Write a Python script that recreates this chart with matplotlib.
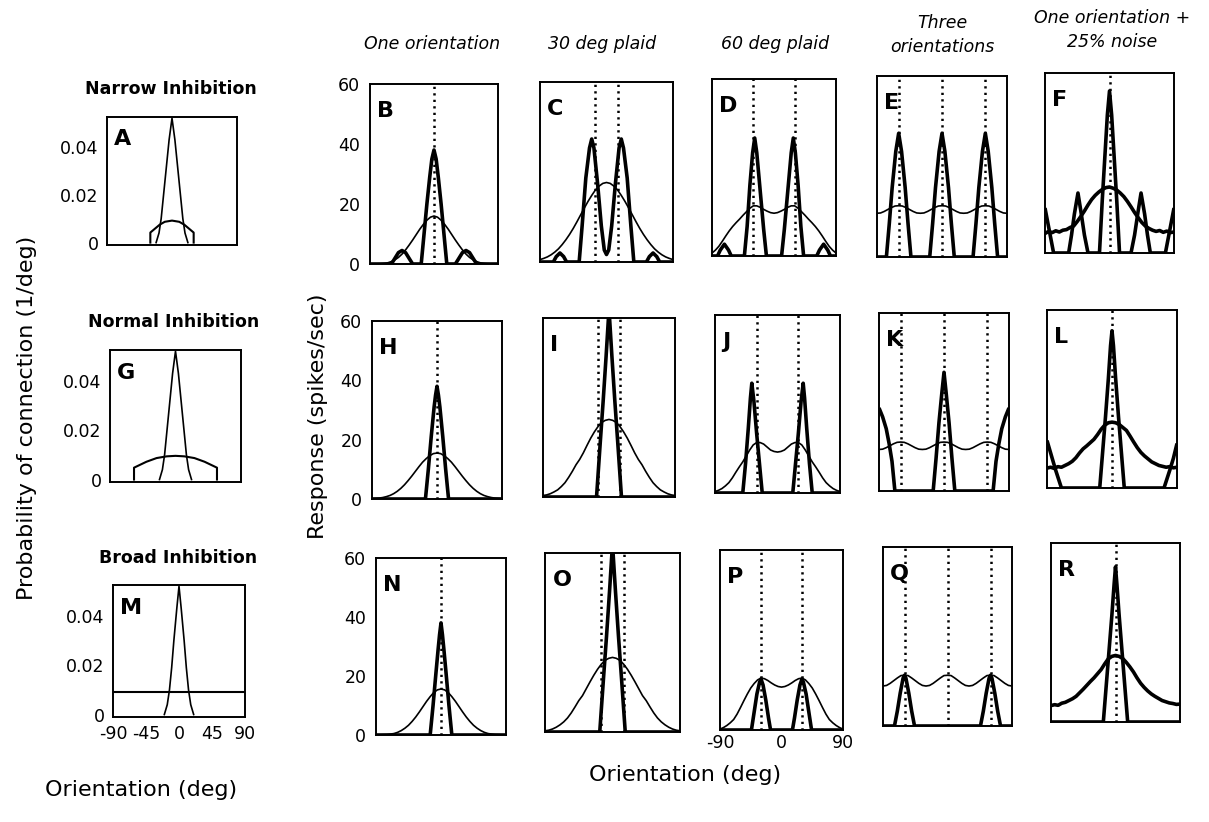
import matplotlib
matplotlib.use("Agg")
import matplotlib.pyplot as plt

W, H = 1209, 822

# ---------------- data ----------------
ORIENT = [-90, -85, -80, -75, -70, -65, -60, -55, -50, -45, -40, -35, -30, -25, -20, -15, -10, -5, 0,
          5, 10, 15, 20, 25, 30, 35, 40, 45, 50, 55, 60, 65, 70, 75, 80, 85, 90]

# broad (thin) response curves, sampled at ORIENT
thin_B = [0, 0, 0.05, 0.1, 0.2, 0.4, 0.8, 1.4, 2.2, 3.3, 4.7, 6.3, 8.0, 9.8, 11.6, 13.2, 14.6, 15.6, 16,
          15.6, 14.6, 13.2, 11.6, 9.8, 8.0, 6.3, 4.7, 3.3, 2.2, 1.4, 0.8, 0.4, 0.2, 0.1, 0.05, 0, 0]
thin_C = [0.8, 1.2, 1.7, 2.4, 3.3, 4.4, 5.8, 7.4, 9.2, 11.2, 13.4, 15.7, 18, 20.2, 22.2, 24, 25.3, 26.2, 26.5,
          26.2, 25.3, 24, 22.2, 20.2, 18, 15.7, 13.4, 11.2, 9.2, 7.4, 5.8, 4.4, 3.3, 2.4, 1.7, 1.2, 0.8]
thin_D = [1, 2, 3.3, 5, 6.8, 8.5, 10, 11.3, 12.5, 13.8, 15, 16.2, 17, 17, 16.5, 15.8, 15.2, 14.7, 14.5,
          14.7, 15.2, 15.8, 16.5, 17, 17, 16.2, 15, 13.8, 12.5, 11.3, 10, 8.5, 6.8, 5, 3.3, 2, 1]
thin_E = [14.5, 14.6, 15.1, 15.75, 16.4, 16.9, 17, 16.9, 16.4, 15.75, 15.1, 14.6, 14.5, 14.6, 15.1, 15.75, 16.4, 16.9, 17,
          16.9, 16.4, 15.75, 15.1, 14.6, 14.5, 14.6, 15.1, 15.75, 16.4, 16.9, 17, 16.9, 16.4, 15.75, 15.1, 14.6, 14.5]
thin_F = [6.5, 7.2, 6.8, 7.4, 7.0, 7.6, 7.8, 8.5, 9.0, 10.5, 12.2, 14, 16, 17.8, 19.2, 20.3, 21.2, 21.8, 22,
          21.6, 21, 20, 18.8, 17.2, 15.4, 13.5, 11.8, 10.2, 9.0, 8.2, 7.6, 7.2, 7.5, 6.9, 7.3, 6.8, 7.0]
thin_H = [0.1, 0.2, 0.3, 0.5, 0.8, 1.2, 1.8, 2.6, 3.6, 4.8, 6.2, 7.7, 9.3, 10.9, 12.4, 13.6, 14.6, 15.3, 15.5,
          15.3, 14.6, 13.6, 12.4, 10.9, 9.3, 7.7, 6.2, 4.8, 3.6, 2.6, 1.8, 1.2, 0.8, 0.5, 0.3, 0.2, 0.1]
thin_I = [0.5, 0.7, 1.1, 1.7, 2.4, 3.5, 4.8, 6.6, 8.6, 10.8, 12.6, 14.8, 17.3, 19.7, 21.8, 23.6, 25, 25.7, 26,
          25.7, 25, 23.6, 21.8, 19.7, 17.3, 14.8, 12.6, 10.8, 8.6, 6.6, 4.8, 3.5, 2.4, 1.7, 1.1, 0.7, 0.5]
thin_J = [0.5, 0.9, 1.5, 2.4, 3.5, 5.1, 7, 8.8, 10.5, 12.5, 14.5, 16.2, 17, 17, 16.5, 15.5, 14.5, 14, 13.8,
          14, 14.5, 15.5, 16.5, 17, 17, 16.2, 14.5, 12.5, 10.5, 8.8, 7, 5.1, 3.5, 2.4, 1.5, 0.9, 0.5]
thin_K = [14, 14.1, 14.6, 15.25, 15.9, 16.4, 16.5, 16.4, 15.9, 15.25, 14.6, 14.1, 14, 14.1, 14.6, 15.25, 15.9, 16.4, 16.5,
          16.4, 15.9, 15.25, 14.6, 14.1, 14, 14.1, 14.6, 15.25, 15.9, 16.4, 16.5, 16.4, 15.9, 15.25, 14.6, 14.1, 14]
thin_L = [6.7, 7.0, 6.6, 7.2, 7.0, 7.6, 8.2, 9.0, 10.2, 11.8, 13.2, 14.2, 15.3, 16.4, 18.0, 19.8, 21.2, 22.0, 22.2,
          22.0, 21.4, 20.4, 19.4, 17.5, 15.5, 13.6, 12.0, 10.8, 9.8, 8.8, 8.2, 7.6, 7.3, 7.0, 7.2, 6.8, 7.0]
thin_N = [0, 0.05, 0.1, 0.15, 0.3, 0.5, 0.9, 1.5, 2.3, 3.3, 4.6, 6.1, 7.8, 9.6, 11.4, 13.0, 14.4, 15.3, 15.6,
          15.3, 14.4, 13.0, 11.4, 9.6, 7.8, 6.1, 4.6, 3.3, 2.3, 1.5, 0.9, 0.5, 0.3, 0.15, 0.1, 0.05, 0]
thin_O = [0.4, 0.6, 1.0, 1.6, 2.4, 3.4, 4.7, 6.4, 8.4, 10.5, 12.2, 14.5, 16.8, 19, 21, 22.7, 24, 24.7, 25,
          24.7, 24, 22.7, 21, 19, 16.8, 14.5, 12.2, 10.5, 8.4, 6.4, 4.7, 3.4, 2.4, 1.6, 1.0, 0.6, 0.4]
thin_P = [0.3, 0.8, 1.5, 2.4, 3.5, 5.3, 7.5, 9.8, 12, 14, 15.5, 16.7, 17.3, 17.1, 16.5, 15.7, 15, 14.5, 14.3,
          14.5, 15, 15.7, 16.5, 17.1, 17.3, 16.7, 15.5, 14, 12, 9.8, 7.5, 5.3, 3.5, 2.4, 1.5, 0.8, 0.3]
thin_Q = [13.4, 13.6, 14.3, 15.2, 16.1, 16.9, 17, 16.9, 16.1, 15.2, 14.3, 13.6, 13.4, 13.6, 14.3, 15.2, 16.1, 16.9, 17,
          16.9, 16.1, 15.2, 14.3, 13.6, 13.4, 13.6, 14.3, 15.2, 16.1, 16.9, 17, 16.9, 16.1, 15.2, 14.3, 13.6, 13.4]
thin_R = [5.5, 5.8, 5.6, 6.3, 6.6, 7.2, 7.8, 8.6, 9.8, 11.0, 12.3, 13.6, 14.8, 16.2, 17.6, 19.5, 21.2, 22.0, 22.3,
          22.0, 21.3, 20.0, 18.5, 16.8, 14.8, 13.0, 11.6, 10.4, 9.4, 8.6, 7.9, 7.2, 6.8, 6.4, 6.2, 5.9, 6.0]

# narrow (thick) response curves
thick_B_deg = [-90, -60, -56, -50, -45, -40, -34, -30, -18, -14, -10, -6, -3, 0, 3, 6, 10, 14, 18, 30, 34, 40, 45, 50, 56, 60, 90]
thick_B = [0, 0, 1.5, 3.8, 4.5, 3.8, 1.5, 0, 0, 10, 20, 29, 35, 38, 35, 29, 20, 10, 0, 0, 1.5, 3.8, 4.5, 3.8, 1.5, 0, 0]
thick_C_deg = [-90, -72, -68, -63, -58, -54, -37, -33, -28, -23, -20, -17, -12, -7, -3, 0, 3, 7, 12, 17, 20, 23, 28, 33, 37, 54, 58, 63, 68, 72, 90]
thick_C = [0, 0, 1.8, 3, 1.8, 0, 0, 12, 28, 38, 41, 38, 26, 12, 4, 2.5, 4, 12, 26, 38, 41, 38, 28, 12, 0, 0, 1.8, 3, 1.8, 0, 0]
thick_D_deg = [-90, -82, -78, -72, -66, -62, -43, -39, -35, -31, -28, -25, -20, -15, -11, 11, 15, 20, 25, 28, 31, 35, 39, 43, 62, 66, 72, 78, 82, 90]
thick_D = [0, 0, 2, 4, 2, 0, 0, 10, 24, 35, 40, 35, 22, 9, 0, 0, 9, 22, 35, 40, 35, 24, 10, 0, 0, 2, 4, 2, 0, 0]
thick_E_deg = [-90, -77, -73, -69, -64, -60, -56, -51, -47, -43, -17, -13, -9, -4, 0, 4, 9, 13, 17, 43, 47, 51, 56, 60, 64, 69, 73, 77, 90]
thick_E = [0, 0, 11, 23, 35, 41, 35, 23, 11, 0, 0, 11, 23, 35, 41, 35, 23, 11, 0, 0, 11, 23, 35, 41, 35, 23, 11, 0, 0]
thick_F_deg = [-90, -86, -82, -78, -57, -53, -49, -44, -40, -35, -30, -14, -10, -6, -3, 0, 3, 6, 10, 14, 30, 35, 40, 44, 49, 53, 57, 78, 82, 86, 90]
thick_F = [15, 10, 5, 0, 0, 6, 13, 20, 14, 6, 0, 0, 18, 34, 46, 54, 46, 34, 18, 0, 0, 6, 14, 20, 13, 6, 0, 0, 5, 10, 15]
thick_H_deg = [-90, -16, -12, -8, -4, -2, 0, 2, 4, 8, 12, 16, 90]
thick_H = [0, 0, 10, 21, 31, 35, 38, 35, 31, 21, 10, 0, 0]
thick_I_deg = [-90, -17, -12, -8, -4, 0, 4, 8, 12, 17, 90]
thick_I = [0, 0, 18, 32, 47, 63, 47, 32, 18, 0, 0]
thick_J_deg = [-90, -50, -46, -42, -39, -37, -34, -30, -26, -22, 22, 26, 30, 34, 37, 39, 42, 46, 50, 90]
thick_J = [0, 0, 10, 22, 32, 37, 31, 20, 10, 0, 0, 10, 20, 31, 37, 32, 22, 10, 0, 0]
thick_K_deg = [-90, -85, -80, -76, -72, -68, -15, -11, -7, -3, 0, 3, 7, 11, 15, 68, 72, 76, 80, 85, 90]
thick_K = [28, 25, 21, 16, 10, 0, 0, 11, 23, 33, 40, 33, 23, 11, 0, 0, 10, 16, 21, 25, 28]
thick_L_deg = [-90, -84, -78, -72, -70, -17, -13, -9, -5, -2, 0, 2, 5, 9, 13, 17, 72, 74, 80, 85, 90]
thick_L = [16, 11, 6, 1.5, 0, 0, 12, 24, 37, 48, 53, 48, 37, 24, 12, 0, 0, 1.5, 6, 10, 15]
thick_N_deg = [-90, -15, -11, -7, -4, -2, 0, 2, 4, 7, 11, 15, 90]
thick_N = [0, 0, 10, 21, 29, 34, 38, 34, 29, 21, 10, 0, 0]
thick_O_deg = [-90, -17, -12, -8, -4, 0, 4, 8, 12, 17, 90]
thick_O = [0, 0, 18, 32, 47, 63, 47, 32, 18, 0, 0]
thick_P_deg = [-90, -44, -40, -36, -32, -30, -27, -23, -19, -16, 16, 19, 23, 27, 30, 32, 36, 40, 44, 90]
thick_P = [0, 0, 6, 12, 16, 17, 15, 10, 4, 0, 0, 4, 10, 15, 17, 16, 12, 6, 0, 0]
thick_Q_deg = [-90, -74, -70, -66, -62, -60, -58, -54, -50, -46, 46, 50, 54, 58, 60, 62, 66, 70, 74, 90]
thick_Q = [0, 0, 5, 11, 16, 17, 16, 11, 5, 0, 0, 5, 11, 16, 17, 16, 11, 5, 0, 0]
thick_R_deg = [-90, -17, -13, -9, -5, -2, 0, 2, 5, 9, 13, 17, 90]
thick_R = [0, 0, 12, 24, 36, 46, 52, 46, 36, 24, 12, 0, 0]

# stimulus orientations (dotted lines) per column
stim_one = [0]
stim_30 = [-15, 15]
stim_60 = [-30, 30]
stim_three = [-60, 0, 60]

# connection profiles (left column)
exc_A_deg = [-22, -18, -15, -12, -8, -4, 0, 4, 8, 12, 15, 18, 22]
exc_A = [0, 0.004, 0.010, 0.019, 0.031, 0.043, 0.052, 0.043, 0.031, 0.019, 0.010, 0.004, 0]
inh_A_deg = [-30, -30, -17, -10, 0, 10, 17, 30, 30]
inh_A = [0, 0.0042, 0.0075, 0.0087, 0.0092, 0.0087, 0.0075, 0.0042, 0]
exc_G_deg = [-22, -18, -15, -12, -8, -4, 0, 4, 8, 12, 15, 18, 22]
exc_G = [0, 0.004, 0.010, 0.019, 0.031, 0.043, 0.052, 0.043, 0.031, 0.019, 0.010, 0.004, 0]
inh_G_deg = [-57, -57, -40, -26, -12, 0, 12, 26, 40, 57, 57]
inh_G = [0, 0.0048, 0.0072, 0.0087, 0.0094, 0.0096, 0.0094, 0.0087, 0.0072, 0.0048, 0]
exc_M_deg = [-20, -16, -13, -10, -7, -3, 0, 3, 7, 10, 13, 16, 20]
exc_M = [0, 0.004, 0.010, 0.019, 0.030, 0.043, 0.052, 0.043, 0.030, 0.019, 0.010, 0.004, 0]
inh_M_deg = [-90, 90]
inh_M = [0.0092, 0.0092]

resp_ticks = [0, 20, 40, 60]
prob_ticks = [0, 0.02, 0.04]
prob_ticklabels = ["0", "0.02", "0.04"]
orient_ticks_left = [-90, -45, 0, 45, 90]
orient_ticklabels_left = ["-90", "-45", "0", "45", "90"]
orient_ticks_mid = [-90, 0, 90]
orient_ticklabels_mid = ["-90", "0", "90"]

column_titles = ["One orientation", "30 deg plaid", "60 deg plaid", "Three\norientations", "One orientation +\n25% noise"]
row_titles = ["Narrow Inhibition", "Normal Inhibition", "Broad Inhibition"]

# ---------------- figure ----------------
plt.rcParams['font.family'] = ['DejaVu Sans']
plt.rcParams['axes.unicode_minus'] = False
fig = plt.figure(figsize=(W / 100, H / 100), dpi=100)
fig.patch.set_facecolor('white')

TICK_FS = 12.5
LETTER_FS = 16


def add_ax(x0, y0, x1, y1):
    return fig.add_axes([x0 / W, 1 - y1 / H, (x1 - x0) / W, (y1 - y0) / H])


def style(ax, letter):
    for s in ax.spines.values():
        s.set_linewidth(1.4)
    ax.tick_params(length=0, labelsize=TICK_FS)
    ax.set_xticks([])
    ax.set_yticks([])
    ax.text(0.055, 0.905, letter, transform=ax.transAxes, ha='left', va='top',
            fontsize=LETTER_FS, fontweight='bold')


# middle panels: (letter, box, thin, thick_deg, thick, stim)
mid_panels = [
    ("B", (370, 84, 498, 264), thin_B, thick_B_deg, thick_B, stim_one),
    ("C", (540, 82, 673, 262), thin_C, thick_C_deg, thick_C, stim_30),
    ("D", (712, 79, 836, 256), thin_D, thick_D_deg, thick_D, stim_60),
    ("E", (877, 76, 1007, 257), thin_E, thick_E_deg, thick_E, stim_three),
    ("F", (1045, 73, 1174, 253), thin_F, thick_F_deg, thick_F, stim_one),
    ("H", (372, 321, 502, 499), thin_H, thick_H_deg, thick_H, stim_one),
    ("I", (543, 318, 675, 497), thin_I, thick_I_deg, thick_I, stim_30),
    ("J", (715, 315, 840, 493), thin_J, thick_J_deg, thick_J, stim_60),
    ("K", (879, 313, 1009, 491), thin_K, thick_K_deg, thick_K, stim_three),
    ("L", (1047, 310, 1177, 488), thin_L, thick_L_deg, thick_L, stim_one),
    ("N", (376, 558, 506, 735), thin_N, thick_N_deg, thick_N, stim_one),
    ("O", (545, 553, 680, 732), thin_O, thick_O_deg, thick_O, stim_30),
    ("P", (720, 550, 843, 730), thin_P, thick_P_deg, thick_P, stim_60),
    ("Q", (883, 547, 1012, 726), thin_Q, thick_Q_deg, thick_Q, stim_three),
    ("R", (1051, 543, 1180, 722), thin_R, thick_R_deg, thick_R, stim_one),
]

noisy = {"F", "L", "R"}

for letter, box, thin, tdeg, thick, stim in mid_panels:
    ax = add_ax(*box)
    ax.set_xlim(-90, 90)
    ax.set_ylim(0, 60)
    for s in stim:
        ax.axvline(s, color='black', lw=1.8, ls=(0, (0.9, 1.7)))
    ax.plot(ORIENT, thin, color='black', lw=(2.6 if letter in noisy else 1.2), solid_joinstyle='round')
    ax.plot(tdeg, thick, color='black', lw=2.6, solid_joinstyle='round', solid_capstyle='butt')
    style(ax, letter)
    if letter in ("B", "H", "N"):
        ax.set_yticks(resp_ticks)
        ax.tick_params(axis='y', pad=7)
    if letter == "P":
        ax.set_xticks(orient_ticks_mid)
        ax.set_xticklabels(orient_ticklabels_mid)
        ax.tick_params(axis='x', pad=3, labelbottom=True)

# left column
left_panels = [
    ("A", (107, 117, 237, 245), exc_A_deg, exc_A, inh_A_deg, inh_A),
    ("G", (110, 350, 241, 482), exc_G_deg, exc_G, inh_G_deg, inh_G),
    ("M", (113, 585, 245, 717), exc_M_deg, exc_M, inh_M_deg, inh_M),
]
for letter, box, edeg, exc, ideg, inh in left_panels:
    ax = add_ax(*box)
    ax.set_xlim(-90, 90)
    ax.set_ylim(-0.001, 0.0525)
    ax.plot(edeg, exc, color='black', lw=1.2)
    ax.plot(ideg, inh, color='black', lw=1.5)
    style(ax, letter)
    ax.set_yticks(prob_ticks)
    ax.set_yticklabels(prob_ticklabels)
    ax.tick_params(axis='y', pad=6)
    if letter == "M":
        ax.set_xticks(orient_ticks_left)
        ax.set_xticklabels(orient_ticklabels_left)
        ax.tick_params(axis='x', pad=6)

# column titles
col_x = [432, 602, 775, 942, 1112]
col_y = [44, 44, 44, 35, 30]
for t, x, y in zip(column_titles, col_x, col_y):
    fig.text(x / W, 1 - y / H, t, ha='center', va='center', fontsize=12.5,
             style='italic', linespacing=1.45)

# row titles
row_pos = [(171, 89), (174, 322), (178, 558)]
for t, (x, y) in zip(row_titles, row_pos):
    fig.text(x / W, 1 - y / H, t, ha='center', va='center', fontsize=12.5, fontweight='bold')

# axis labels
fig.text(27 / W, 1 - 418 / H, "Probability of connection (1/deg)", rotation=90,
         ha='center', va='center', fontsize=16)
fig.text(318 / W, 1 - 416 / H, "Response (spikes/sec)", rotation=90,
         ha='center', va='center', fontsize=16)
fig.text(141 / W, 1 - 790 / H, "Orientation (deg)", ha='center', va='center', fontsize=16)
fig.text(685 / W, 1 - 775 / H, "Orientation (deg)", ha='center', va='center', fontsize=16)

fig.savefig("out.png", dpi=100, facecolor='white')
